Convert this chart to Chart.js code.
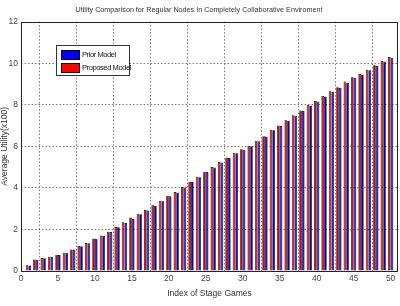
<!DOCTYPE html>
<html>
<head>
<meta charset="utf-8">
<script src="https://cdn.jsdelivr.net/npm/chart.js@4/dist/chart.umd.min.js"></script>
<style>
  html, body { margin: 0; padding: 0; background: #fff; }
  #wrap { position: relative; width: 400px; height: 306px; }
  #legend {
    position: absolute; left: 56px; top: 45px; width: 72px; height: 29px;
    background: #fff; border: 1px solid #333;
    font-family: "Liberation Sans", Arial, sans-serif;
    font-size: 7.6px; letter-spacing: -0.45px; color: #111; white-space: nowrap;
  }
  .row { position: absolute; left: 4px; height: 11px; display: flex; align-items: center; }
  .sw { width: 19px; height: 10px; border: 0.5px solid #000; box-sizing: border-box; margin-right: 2px; }
</style>
</head>
<body>
<div id="wrap">
  <canvas id="c" width="400" height="306"></canvas>
  <div id="legend">
    <div class="row" style="top:3px"><div class="sw" style="background:#0000ff"></div><span>Prior Model</span></div>
    <div class="row" style="top:16px"><div class="sw" style="background:#ff0000"></div><span>Proposed Model</span></div>
  </div>
</div>
<script>
const stageIndex = [1,2,3,4,5,6,7,8,9,10,11,12,13,14,15,16,17,18,19,20,21,22,23,24,25,26,27,28,29,30,31,32,33,34,35,36,37,38,39,40,41,42,43,44,45,46,47,48,49,50];
const proposedModel = [0.28,0.55,0.62,0.69,0.78,0.88,1.04,1.20,1.35,1.57,1.71,1.89,2.12,2.34,2.58,2.75,2.93,3.16,3.38,3.62,3.80,4.04,4.30,4.53,4.78,5.00,5.24,5.46,5.69,5.86,6.02,6.27,6.49,6.80,7.00,7.25,7.49,7.72,8.00,8.18,8.42,8.65,8.84,9.12,9.32,9.48,9.68,9.90,10.10,10.30];
const priorModel = [0.27,0.54,0.61,0.68,0.77,0.87,1.03,1.19,1.34,1.55,1.70,1.88,2.10,2.31,2.50,2.73,2.91,3.14,3.36,3.60,3.78,4.02,4.28,4.51,4.76,4.98,5.22,5.44,5.67,5.84,6.00,6.25,6.47,6.77,6.98,7.23,7.47,7.70,7.97,8.16,8.40,8.63,8.82,9.05,9.30,9.46,9.66,9.88,10.08,10.26];
const xTicks = [0,5,10,15,20,25,30,35,40,45,50];
const yTicks = [0,2,4,6,8,10,12];

const font = "'Liberation Sans', Arial, sans-serif";

const boxPlugin = {
  id: 'box',
  afterDraw(chart) {
    const {ctx, chartArea: a} = chart;
    ctx.save();
    ctx.strokeStyle = '#222';
    ctx.lineWidth = 1;
    ctx.strokeRect(Math.round(a.left) + 0.5, Math.round(a.top) + 0.5, Math.round(a.right - a.left) - 1, Math.round(a.bottom - a.top));
    ctx.restore();
  }
};

new Chart(document.getElementById('c'), {
  type: 'bar',
  data: {
    datasets: [
      { label: 'Proposed Model', data: stageIndex.map((x, i) => ({x, y: proposedModel[i]})),
        backgroundColor: '#e00000', borderColor: '#100000', borderWidth: 0.7 },
      { label: 'Prior Model', data: stageIndex.map((x, i) => ({x, y: priorModel[i]})),
        backgroundColor: '#0000e0', borderColor: '#000010', borderWidth: 0.7 }
    ]
  },
  plugins: [boxPlugin],
  options: {
    responsive: false,
    animation: false,
    devicePixelRatio: 1,
    categoryPercentage: 0.72,
    barPercentage: 1.0,
    layout: { padding: { top: 2, right: 2, left: 0, bottom: 0 } },
    plugins: {
      legend: { display: false },
      tooltip: { enabled: false },
      title: {
        display: true,
        text: 'Utility Comparison for Regular Nodes In Completely Collaborative Enviroment',
        font: { family: font, size: 7.2, weight: 'normal' },
        color: '#333',
        padding: { top: 4, bottom: 7 }
      }
    },
    scales: {
      x: {
        type: 'linear',
        min: 0, max: 51,
        offset: false,
        afterBuildTicks: s => { s.ticks = xTicks.map(v => ({value: v})); },
        afterFit: s => { s.height = 35; },
        ticks: { font: { family: font, size: 8.5 }, color: '#444', padding: 3, maxRotation: 0 },
        grid: {
          drawTicks: false,
          color: ctx => (ctx.tick && ctx.tick.value > 0) ? '#555' : 'rgba(0,0,0,0)',
          lineWidth: 0.8
        },
        border: { display: false, dash: [1.5, 2] },
        title: { display: true, text: 'Index of Stage Games', font: { family: font, size: 8.5 }, color: '#333', padding: { top: 2, bottom: 7 } }
      },
      y: {
        min: 0, max: 12,
        afterBuildTicks: s => { s.ticks = yTicks.map(v => ({value: v})); },
        afterFit: s => { s.width = 21; },
        ticks: { font: { family: font, size: 8.5 }, color: '#444', padding: 3 },
        grid: {
          drawTicks: false,
          color: ctx => (ctx.tick && ctx.tick.value > 0 && ctx.tick.value < 12) ? '#555' : 'rgba(0,0,0,0)',
          lineWidth: 0.8
        },
        border: { display: false, dash: [1.5, 2] },
        title: { display: true, text: 'Average Utility(x100)', font: { family: font, size: 8.5 }, color: '#333', padding: { top: 0, bottom: 0 } }
      }
    }
  }
});
</script>
</body>
</html>
